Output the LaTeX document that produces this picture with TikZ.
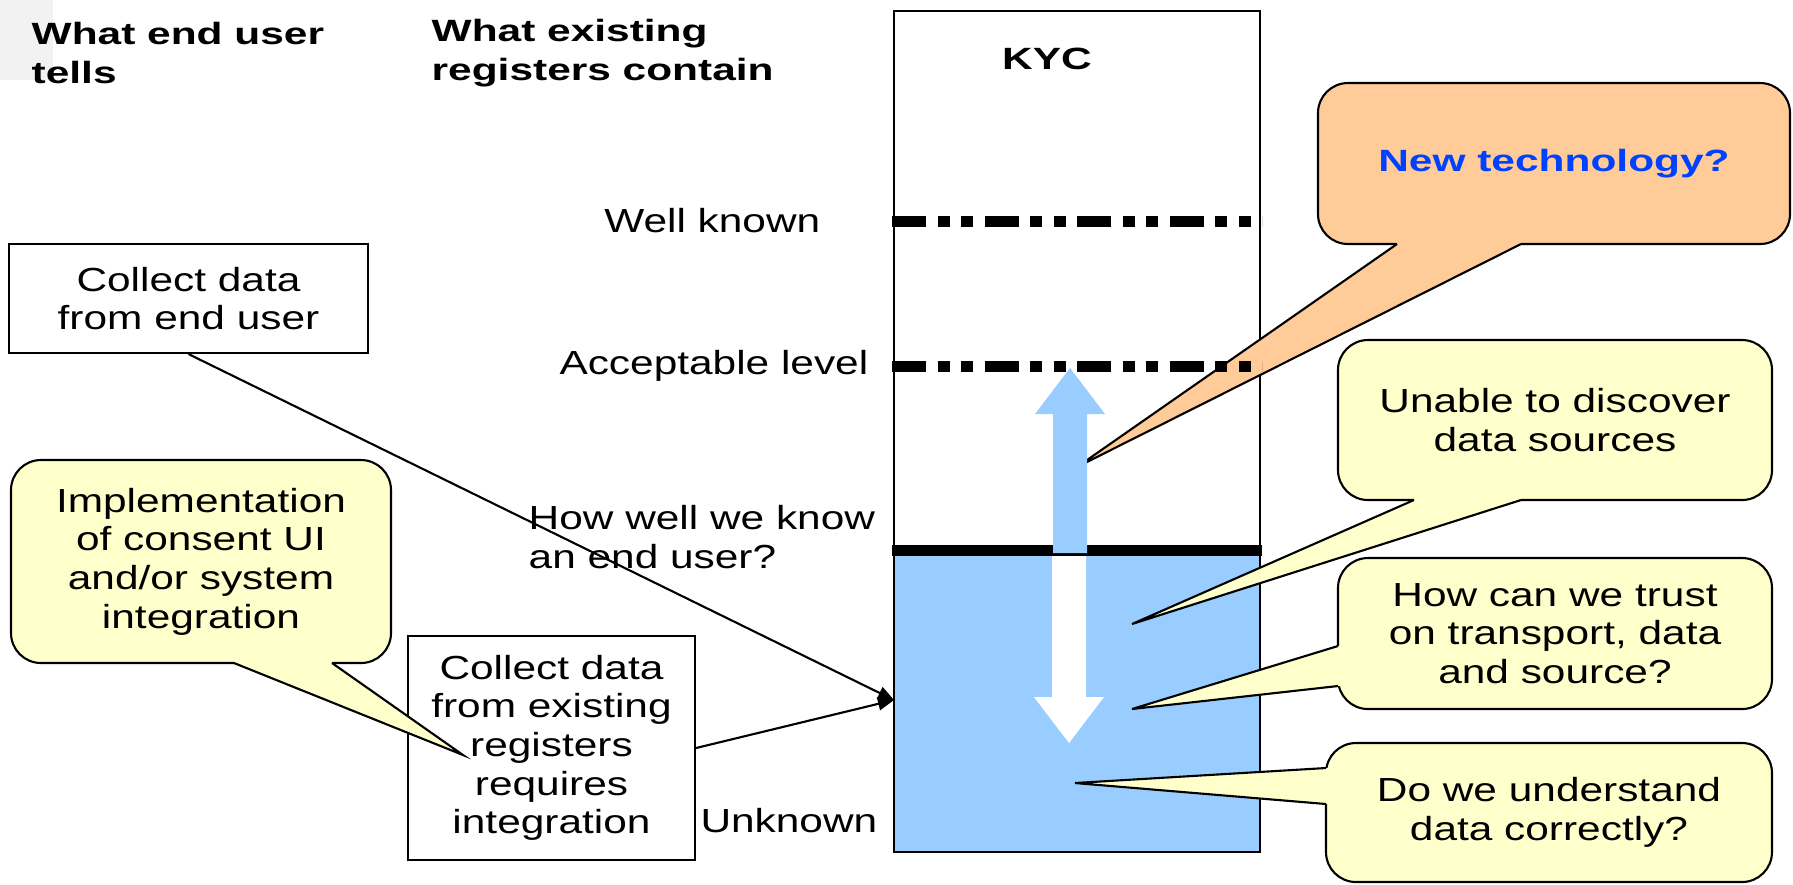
\documentclass[tikz,border=0pt]{standalone}
\usepackage{fontspec}
\setmainfont{Liberation Sans}[FakeStretch=1.27, BoldFeatures={FakeStretch=1.38}]
\usepackage{xcolor}
\usetikzlibrary{arrows.meta, positioning, calc}
\definecolor{kycblue}{HTML}{99CCFF}
\definecolor{peach}{HTML}{FFCC99}
\definecolor{paleyellow}{HTML}{FFFFCC}
\definecolor{techblue}{HTML}{0040FF}
\newcommand{\txt}{\fontsize{9.5}{11}\selectfont}
\newcommand{\hdrtxt}{\fontsize{8.75}{11.2}\selectfont\bfseries}
% fill colour, two base points on the bubble edge, tip, shift into the bubble
\newcommand{\bubbletail}[5]{%
  \fill[#1] (#2) -- (#4) -- (#3) -- ($(#3)+(#5)$) -- ($(#2)+(#5)$) -- cycle;
  \draw[line width=0.6pt, line join=miter] (#2) -- (#4) -- (#3);
}

\begin{document}
\begin{tikzpicture}[x=0.1mm, y=-0.1mm,
  box/.style={draw, line width=0.6pt, fill=white, align=center, font=\txt, inner sep=0pt},
  bubble/.style={draw, line width=0.6pt, rounded corners=3mm, align=center, font=\txt, inner sep=0pt},
  lbl/.style={font=\txt, inner sep=0pt},
  hdr/.style={font=\hdrtxt, align=left, inner sep=0pt},
  level/.style={line width=1.1mm, dash pattern=on 3.4mm off 1.15mm on 1.2mm off 1.15mm on 1.2mm off 1.15mm},
  conn/.style={line width=0.6pt, -{Triangle[length=1.6mm,width=1.3mm]}}
]
  \useasboundingbox (0,0) rectangle (1793,884);
  \fill[black!5] (0,0) rectangle (53,80);

  % Column headings
  \node[hdr, anchor=west] (userHdr) at (31,53) {What end user\\tells};
  \node[hdr, anchor=west] (regHdr) at (431,53) {What existing\\registers contain};

  % KYC column
  \fill[kycblue] (894,550) rectangle (1260,852);
  \draw[line width=0.6pt] (894,11) rectangle (1260,852);
  \node[hdr] (kyc) at (1047,59) {KYC};

  % New technology bubble
  \node[bubble, fill=peach, minimum width=47.2mm, minimum height=16.1mm] (newTech) at (1554,163.5)
    {\hdrtxt\textcolor{techblue}{New technology?}};
  \coordinate (newTechTip) at (1077,467);
  \bubbletail{peach}{1397,244}{1521,244}{newTechTip}{0,-6}

  % Levels
  \draw[level] (892,221) -- (1262,221);
  \draw[level] (892,366) -- (1262,366);
  \draw[line width=1.1mm] (892,550) -- (1262,550);

  \node[lbl, anchor=east] (wellKnown) at (821,221) {Well known};
  \node[lbl, anchor=east] (accLevel) at (869,366) {Acceptable level};
  \node[lbl, anchor=east] (unknown) at (878,821) {Unknown};

  % Up and down arrows
  \fill[kycblue] (1053,553) -- (1053,414) -- (1035,414) -- (1070,368) -- (1105,414)
    -- (1087,414) -- (1087,553) -- cycle;
  \fill[white] (1052,556) -- (1052,697) -- (1034,697) -- (1069,743) -- (1104,697)
    -- (1086,697) -- (1086,556) -- cycle;

  % Collecting data
  \node[box, minimum width=35.9mm, minimum height=10.9mm] (userBox) at (188.5,298.5)
    {Collect data\\from end user};
  \node[box, minimum width=28.7mm, minimum height=22.4mm] (regBox) at (551.5,748)
    {Collect data\\from existing\\registers\\requires\\integration};
  \node[lbl, align=left, anchor=west] (howWell) at (528,537) {How well we know\\an end user?};

  \coordinate (kycIn) at (894,700);
  \draw[conn] (userBox.south) -- (kycIn);
  \draw[conn] (regBox.east) -- (kycIn);

  % Consent bubble
  \node[bubble, fill=paleyellow, minimum width=38mm, minimum height=20.3mm] (consent) at (201,561.5)
    {Implementation\\of consent UI\\and/or system\\integration};
  \coordinate (consentTip) at (463,755);
  \bubbletail{paleyellow}{234,663}{332,663}{consentTip}{0,-6}

  % Question bubbles
  \node[bubble, fill=paleyellow, minimum width=43.4mm, minimum height=16mm] (discover) at (1555,420)
    {Unable to discover\\data sources};
  \coordinate (discoverTip) at (1132,624);
  \bubbletail{paleyellow}{1414,500}{1521,500}{discoverTip}{0,-6}

  \node[bubble, fill=paleyellow, minimum width=43.4mm, minimum height=15.1mm] (trust) at (1555,633.5)
    {How can we trust\\on transport, data\\and source?};
  \coordinate (trustTip) at (1132,709);
  \bubbletail{paleyellow}{1338,646}{1338,686}{trustTip}{6,0}

  \node[bubble, fill=paleyellow, minimum width=44.6mm, minimum height=13.9mm] (understand) at (1549,812.5)
    {Do we understand\\data correctly?};
  \coordinate (understandTip) at (1075,783);
  \bubbletail{paleyellow}{1326,768}{1326,804}{understandTip}{6,0}
\end{tikzpicture}
\end{document}
